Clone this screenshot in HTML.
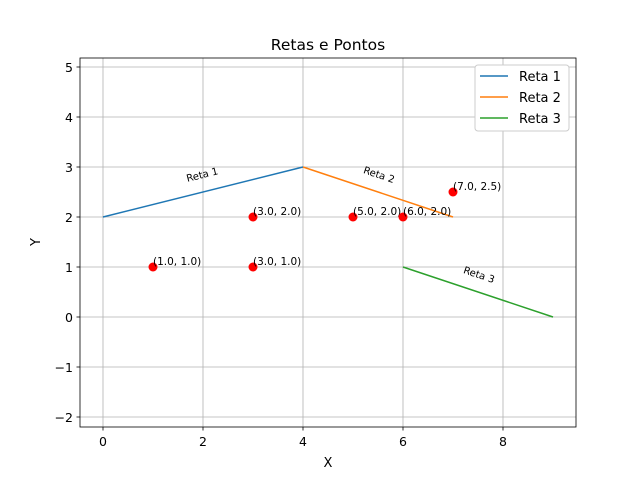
<!DOCTYPE html>
<html><head><meta charset="utf-8"><style>body{margin:0;background:#fff}svg{font-family:"DejaVu Sans","Liberation Sans",sans-serif}</style></head>
<body>
<svg id="chart" width="640" height="480" viewBox="0 0 640 480"></svg>
<script>
const lineNames=["Reta 1","Reta 2","Reta 3"];
const lineX=[[0,4],[4,7],[6,9]];
const lineY=[[2,3],[3,2],[1,0]];
const lineColors=["#1f77b4","#ff7f0e","#2ca02c"];
const ptX=[1,3,3,5,6,7];
const ptY=[1,2,1,2,2,2.5];
const xTicks=[0,2,4,6,8];
const yTicks=[-2,-1,0,1,2,3,4,5];
const L=80,R=576,T=58,B=427,xmin=-0.46,xmax=9.46,ymin=-2.2,ymax=5.18;
const sx=v=>L+(v-xmin)/(xmax-xmin)*(R-L);
const sy=v=>B-(v-ymin)/(ymax-ymin)*(B-T);
const svg=document.getElementById('chart');
const NS="http://www.w3.org/2000/svg";
function mk(t,a,txt){const e=document.createElementNS(NS,t);for(const k in a)e.setAttribute(k,a[k]);if(txt!==undefined)e.textContent=txt;svg.appendChild(e);return e;}
xTicks.forEach(v=>{const x=sx(v);
const g=mk('line',{x1:x,x2:x,y1:T,y2:B,stroke:'#b0b0b0','stroke-width':0.8});


mk('line',{x1:x,x2:x,y1:B,y2:B+3.5,stroke:'#000','stroke-width':0.8});
const t=mk('text',{x:x,y:B+19,'font-size':12.5,'text-anchor':'middle'},String(v));

});
yTicks.forEach(v=>{const y=sy(v);
const g=mk('line',{x1:L,x2:R,y1:y,y2:y,stroke:'#b0b0b0','stroke-width':0.8});


mk('line',{x1:L-3.5,x2:L,y1:y,y2:y,stroke:'#000','stroke-width':0.8});
const t=mk('text',{x:L-7,y:y+5,'font-size':12.5,'text-anchor':'end'},(v<0?'\u2212'+(-v):String(v)));

});
lineNames.forEach((n,i)=>{
const l=mk('line',{x1:sx(lineX[i][0]),y1:sy(lineY[i][0]),x2:sx(lineX[i][1]),y2:sy(lineY[i][1]),stroke:lineColors[i],'stroke-width':1.5});


const mx=(lineX[i][0]+lineX[i][1])/2,my=(lineY[i][0]+lineY[i][1])/2;
const px=sx(mx),py=sy(my)-14;
const ang=Math.atan2(sy(lineY[i][1])-sy(lineY[i][0]),sx(lineX[i][1])-sx(lineX[i][0]))*180/Math.PI;
const t=mk('text',{x:px,y:py,'font-size':10,'text-anchor':'middle',transform:`rotate(${ang} ${px} ${py})`},n);

});
ptX.forEach((v,i)=>{
const c=mk('circle',{cx:sx(v),cy:sy(ptY[i]),r:4.5,fill:'red'});


const t=mk('text',{x:sx(v),y:sy(ptY[i])-2,'font-size':10.5},`(${v.toFixed(1)}, ${ptY[i].toFixed(1)})`);

});
const fr=mk('rect',{x:L,y:T,width:R-L,height:B-T,fill:'none',stroke:'#000','stroke-width':0.8});


const ti=mk('text',{x:(L+R)/2,y:50,'font-size':15.5,'text-anchor':'middle'},'Retas e Pontos');


const xl=mk('text',{x:(L+R)/2,y:467,'font-size':13,'text-anchor':'middle'},'X');


const yl=mk('text',{x:40,y:242,'font-size':13,'text-anchor':'middle',transform:'rotate(-90 40 242)'},'Y');


const lg=mk('rect',{x:475,y:65,width:94,height:66,fill:'#fff',stroke:'#ccc',rx:3});


lineNames.forEach((n,i)=>{const y=76+i*21;
mk('line',{x1:480,x2:508,y1:y,y2:y,stroke:lineColors[i],'stroke-width':1.5});
const t=mk('text',{x:519,y:y+5,'font-size':13},n);

});
</script>
</body></html>
